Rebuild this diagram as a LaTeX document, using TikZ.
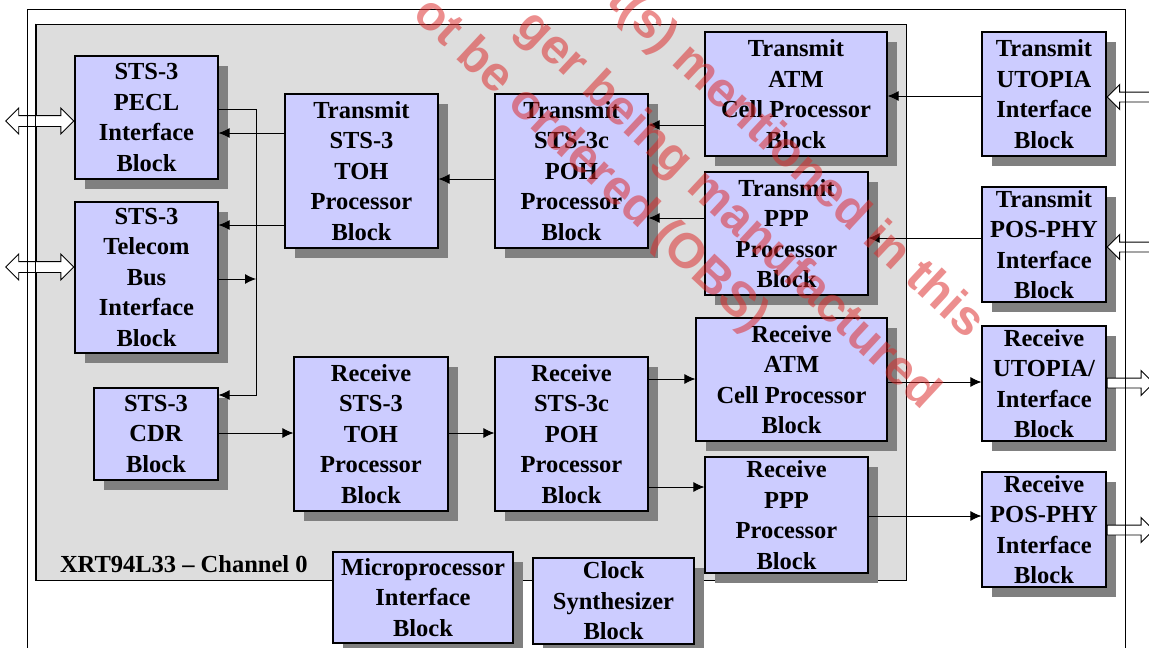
\documentclass[tikz,border=0pt]{standalone}
\usepackage{fontspec}
\setmainfont{Liberation Serif}
\newfontfamily\wmfont{Liberation Sans}
\usetikzlibrary{arrows.meta, positioning, shadows, shapes.arrows}

\definecolor{blockblue}{RGB}{204,204,255}
\definecolor{changray}{RGB}{221,221,221}
\definecolor{shadowgray}{RGB}{128,128,128}
\definecolor{wmred}{RGB}{220,40,40}

\begin{document}
\begin{tikzpicture}[x=1pt, y=-1pt, font=\fontsize{24.5}{30.5}\selectfont\bfseries]

\tikzstyle{block}=[rectangle, draw=black, line width=1.2pt, fill=blockblue, align=center, inner sep=0pt, drop shadow={shadow xshift=9.5pt, shadow yshift=-9.5pt, fill=shadowgray, opacity=1}]
\tikzstyle{chanbox}=[rectangle, draw=black, line width=1pt, fill=changray, inner sep=0pt]
\tikzstyle{frame}=[draw=black, line width=0.9pt]
\tikzstyle{post}=[-{Latex[length=11pt, width=10pt]}, line width=0.9pt]
\tikzstyle{io}=[double arrow, draw=black, fill=white, line width=0.9pt, inner sep=5pt, minimum width=25pt, double arrow head extend=7.5pt, double arrow tip angle=90]
\tikzstyle{port}=[single arrow, draw=black, fill=white, line width=0.9pt, inner sep=4.5pt, minimum width=24pt, single arrow head extend=7.5pt, single arrow tip angle=90]
\tikzstyle{wm}=[font=\wmfont\bfseries\fontsize{49}{59}\selectfont, text=wmred, text opacity=0.52, rotate=-43, inner sep=0pt]

\useasboundingbox (0,0) rectangle (1149,648);
\clip (0,0) rectangle (1149,648);
\fill[white] (0,0) rectangle (1149,648);

% chip outline and channel area
\draw[frame] (27,9) rectangle (1125,670);
\node[chanbox, minimum width=870pt, minimum height=556pt] (chan) at (471,302) {};
\node[anchor=base west] (chan label) at ([xshift=21pt, yshift=8pt]chan.south west) {XRT94L33 -- Channel 0};

% line side
\node[block, minimum width=143pt, minimum height=123pt] (pecl) at (146.5,117.5) {STS-3\\PECL\\Interface\\Block};
\node[block, minimum width=143pt, minimum height=151pt] (tbus) at (146.5,277.5) {STS-3\\Telecom\\Bus\\Interface\\Block};
\node[block, minimum width=124pt, minimum height=92pt] (cdr) at (156,434) {STS-3\\CDR\\Block};

% transmit path
\node[block, minimum width=153pt, minimum height=154pt] (tx toh) at (361.5,171) {Transmit\\STS-3\\TOH\\Processor\\Block};
\node[block, minimum width=153pt, minimum height=154pt] (tx poh) at (571.5,171) {Transmit\\STS-3c\\POH\\Processor\\Block};
\node[block, minimum width=182pt, minimum height=124pt] (tx atm) at (796,94) {Transmit\\ATM\\Cell Processor\\Block};
\node[block, minimum width=163pt, minimum height=123pt] (tx ppp) at (786.5,233.5) {Transmit\\PPP\\Processor\\Block};

% receive path
\node[block, minimum width=154pt, minimum height=154pt] (rx toh) at (371,434) {Receive\\STS-3\\TOH\\Processor\\Block};
\node[block, minimum width=153pt, minimum height=154pt] (rx poh) at (571.5,434) {Receive\\STS-3c\\POH\\Processor\\Block};
\node[block, minimum width=191pt, minimum height=123pt] (rx atm) at (791.5,379.5) {Receive\\ATM\\Cell Processor\\Block};
\node[block, minimum width=163pt, minimum height=116pt] (rx ppp) at (786.5,515) {Receive\\PPP\\Processor\\Block};

% shared blocks
\node[block, minimum width=180pt, minimum height=91pt] (mpu) at (423,597.5) {Microprocessor\\Interface\\Block};
\node[block, minimum width=161pt, minimum height=86pt] (clk) at (613.5,601) {Clock\\Synthesizer\\Block};

% system side
\node[block, minimum width=124pt, minimum height=124pt] (tx utopia) at (1044,94) {Transmit\\UTOPIA\\Interface\\Block};
\node[block, minimum width=124pt, minimum height=115pt] (tx pos) at (1044,244.5) {Transmit\\POS-PHY\\Interface\\Block};
\node[block, minimum width=124pt, minimum height=115pt] (rx utopia) at (1044,383.5) {Receive\\UTOPIA/\\Interface\\Block};
\node[block, minimum width=124pt, minimum height=115pt] (rx pos) at (1044,529.5) {Receive\\POS-PHY\\Interface\\Block};

% external ports
\node[io, minimum height=68pt, anchor=east] (pecl io) at (pecl.west |- 0,121) {};
\node[io, minimum height=68pt, anchor=east] (tbus io) at (tbus.west |- 0,267) {};
\node[port, shape border rotate=180, minimum height=60pt, anchor=tip] (tx utopia in) at (tx utopia.east |- 0,97) {};
\node[port, shape border rotate=180, minimum height=60pt, anchor=tip] (tx pos in) at (tx pos.east |- 0,247) {};
\node[port, minimum height=46.5pt, anchor=tail] (rx utopia out) at (rx utopia.east |- 0,383) {};
\node[port, minimum height=46.5pt, anchor=tail] (rx pos out) at (rx pos.east |- 0,530) {};

\draw[frame] (27,9) -- (27,670);
\draw[frame] (1125,9) -- (1125,670);
\draw[line width=1pt] (chan.north west) -- (chan.south west);

% bus between line interfaces
\coordinate (bus top) at (256,109);
\coordinate (bus bottom) at (256,395);
\draw[post] (pecl.east |- bus top) -- (bus top) -- (bus bottom) -- (cdr.east |- bus bottom);
\draw[post] (tbus.east |- 0,279) -- (bus top |- 0,279);

% transmit connectors
\draw[post] (tx toh.west |- 0,133) -- (pecl.east |- 0,133);
\draw[post] (tx toh.west |- 0,225) -- (tbus.east |- 0,225);
\draw[post] (tx poh.west |- 0,179) -- (tx toh.east |- 0,179);
\draw[post] (tx atm.west |- 0,125) -- (tx poh.east |- 0,125);
\draw[post] (tx ppp.west |- 0,218) -- (tx poh.east |- 0,218);
\draw[post] (tx utopia.west |- 0,96) -- (tx atm.east |- 0,96);
\draw[post] (tx pos.west |- 0,238) -- (tx ppp.east |- 0,238);

% receive connectors
\draw[post] (cdr.east |- 0,433) -- (rx toh.west |- 0,433);
\draw[post] (rx toh.east |- 0,433) -- (rx poh.west |- 0,433);
\draw[post] (rx poh.east |- 0,379) -- (rx atm.west |- 0,379);
\draw[post] (rx poh.east |- 0,487) -- (rx ppp.west |- 0,487);
\draw[post] (rx atm.east |- 0,382) -- (rx utopia.west |- 0,382);
\draw[post] (rx ppp.east |- 0,516) -- (rx pos.west |- 0,516);

% watermark
\node[wm] (wm a) at (795,162) {t(s) mentioned in this};
\node[wm] (wm b) at (727,211) {ger being manufactured};
\node[wm] (wm c) at (590,166) {ot be ordered (OBS)};

\end{tikzpicture}
\end{document}
